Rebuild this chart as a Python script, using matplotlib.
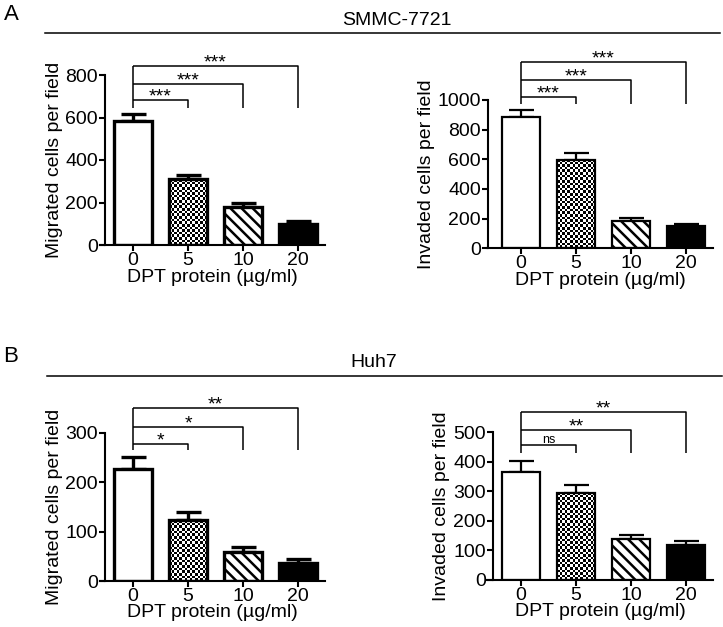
import numpy as np
import matplotlib.pyplot as plt
from matplotlib.lines import Line2D

plt.rcParams['font.family'] = ['Liberation Sans', 'DejaVu Sans']
plt.rcParams['hatch.linewidth'] = 1.8

# data
doses = ['0', '5', '10', '20']
hatches = ['', '', '\\\\\\', '']
faces = ['white', 'white', 'white', 'black']

a_mig = [583, 309, 177, 99]
a_mig_err = [32, 20, 22, 14]
a_inv = [887, 595, 184, 150]
a_inv_err = [45, 45, 18, 14]
b_mig = [227, 123, 59, 36]
b_mig_err = [23, 16, 10, 8]
b_inv = [365, 296, 138, 119]
b_inv_err = [39, 26, 13, 14]

a_mig_sig = ['***', '***', '***']
a_inv_sig = ['***', '***', '***']
b_mig_sig = ['*', '*', '**']
b_inv_sig = ['ns', '**', '**']

a_mig_br = [682, 756, 842]
a_inv_br = [1022, 1135, 1258]
b_mig_br = [277, 311, 349]
b_inv_br = [458, 508, 568]

W, H = 723, 627
fig = plt.figure(figsize=(W / 100, H / 100), dpi=100)
step = 55.0


def checker(ax, bar, cell=2.6):
    # checkerboard fill clipped to the bar
    bb = bar.get_window_extent()
    nx = max(1, int(round(bb.width / cell)))
    ny = max(1, int(round(bb.height / cell)))
    chk = np.add.outer(np.arange(ny), np.arange(nx)) % 2
    x0, y0 = bar.get_xy()
    im = ax.imshow(chk, cmap='gray', extent=[x0, x0 + bar.get_width(), y0, y0 + bar.get_height()],
                   aspect='auto', interpolation='nearest', zorder=2.5)
    im.set_clip_path(bar)


def panel(vals, errs, sig, br, drop, ymax, ystep, ylabel,
          yaxis, xstart, xend, bar0, y0, ytop, lw, lpad):
    ax = fig.add_axes([xstart / W, 1 - y0 / H, (xend - xstart) / W, (y0 - ytop) / H])
    xl = ((xstart - bar0) / step, (xend - bar0) / step)
    ax.set_xlim(*xl)
    ax.set_ylim(0, ymax)
    x = np.arange(len(vals))
    ax.errorbar(x, vals, yerr=[np.zeros(len(errs)), errs], fmt='none',
                ecolor='black', elinewidth=lw, capsize=9, capthick=lw, zorder=1)
    bars = ax.bar(x, vals, width=0.7, color=faces, linewidth=0, zorder=2)
    checker(ax, bars[1])
    edges = ax.bar(x, vals, width=0.7, fill=False, edgecolor='black', linewidth=lw, zorder=3)
    for b, h in zip(edges, hatches):
        b.set_hatch(h)
    ax.set_xlim(*xl)
    ax.set_ylim(0, ymax)
    # significance brackets
    kw = dict(color='black', lw=1.1, clip_on=False, solid_capstyle='butt')
    ax.plot([0, 0], [drop, br[-1]], **kw)
    for j, (h, s) in enumerate(zip(br, sig), start=1):
        ax.plot([0, j, j], [h, h, drop], **kw)
        if s == 'ns':
            ax.annotate(s, (j / 2, h), xytext=(0, 1), textcoords='offset points',
                        ha='center', va='baseline', fontsize=9, annotation_clip=False)
        else:
            ax.annotate(s, (j / 2, h), xytext=(0, -1), textcoords='offset points',
                        ha='center', va='baseline', fontsize=14, annotation_clip=False)
    for s in ['top', 'right']:
        ax.spines[s].set_visible(False)
    ax.spines['left'].set_position(('data', (yaxis - bar0) / step))
    ax.spines['left'].set_bounds(0, ymax)
    for s in ['left', 'bottom']:
        ax.spines[s].set_linewidth(1.5)
    ax.set_xticks(x)
    ax.set_xticklabels(doses)
    ax.set_yticks(np.arange(0, ymax + 1, ystep))
    ax.tick_params(labelsize=14, width=1.5, length=4, pad=1)
    ax.set_ylabel(ylabel, fontsize=14, labelpad=2)
    ax.set_xlabel('DPT protein (µg/ml)', fontsize=14, labelpad=lpad)
    return ax


panel(a_mig, a_mig_err, a_mig_sig, a_mig_br, 646, 800, 200, 'Migrated cells per field',
      105, 100, 325, 133, 245, 75, 2.4, 0)
panel(a_inv, a_inv_err, a_inv_sig, a_inv_br, 973, 1000, 200, 'Invaded cells per field',
      488, 487, 713, 521, 248.3, 100, 1.6, 0)
panel(b_mig, b_mig_err, b_mig_sig, b_mig_br, 264, 300, 100, 'Migrated cells per field',
      105, 100, 325, 133, 581, 432.7, 2.4, -1)
panel(b_inv, b_inv_err, b_inv_sig, b_inv_br, 429, 500, 100, 'Invaded cells per field',
      492.7, 487, 713, 521, 580, 432.3, 1.6, -1)

# section headers
fig.add_artist(Line2D([45 / W, 720 / W], [1 - 33.3 / H, 1 - 33.3 / H], color='black', lw=1.1))
fig.add_artist(Line2D([47 / W, 722 / W], [1 - 376 / H, 1 - 376 / H], color='black', lw=1.1))
fig.text(397 / W, 1 - 25 / H, 'SMMC-7721', ha='center', va='baseline', fontsize=14)
fig.text(374 / W, 1 - 367 / H, 'Huh7', ha='center', va='baseline', fontsize=14)
fig.text(4 / W, 1 - 20 / H, 'A', ha='left', va='baseline', fontsize=16)
fig.text(3 / W, 1 - 362 / H, 'B', ha='left', va='baseline', fontsize=16)

fig.savefig('out.png', dpi=100)
